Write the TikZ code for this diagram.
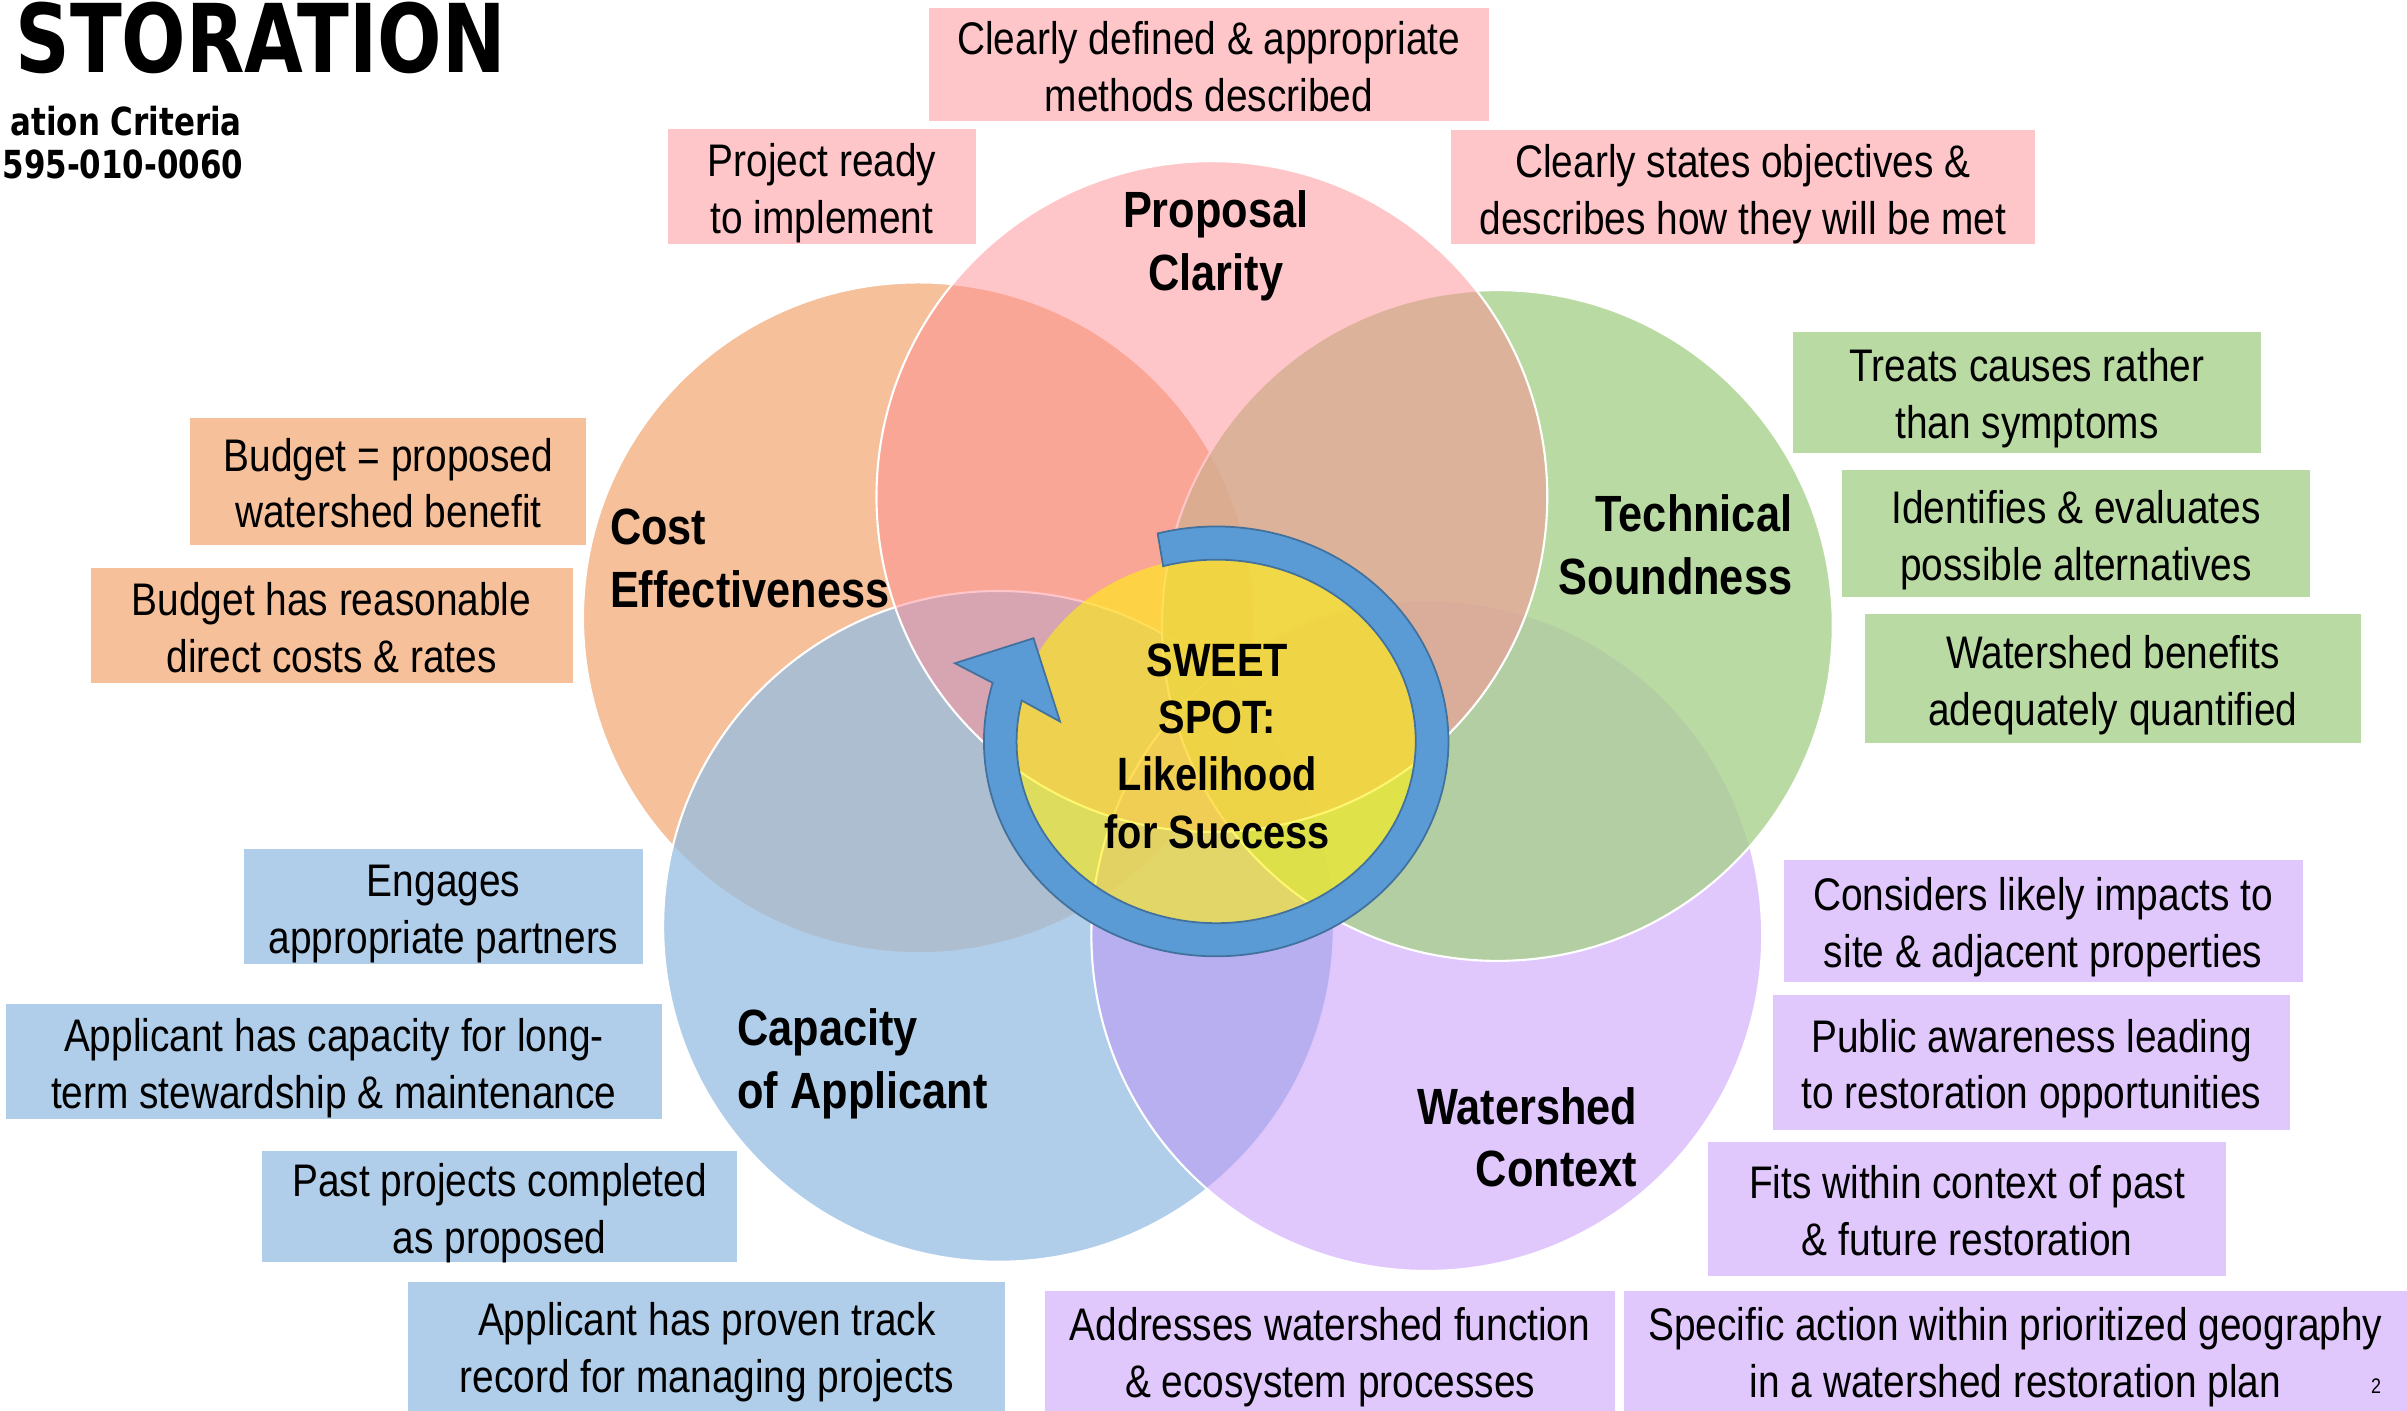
\documentclass[tikz,border=0pt]{standalone}
\usepackage{fontspec}
\setmainfont{Liberation Sans}[FakeStretch=0.85]
\newfontfamily\headfont{DejaVu Sans}[FakeStretch=0.8]

\newcommand\dpx{0.01535cm}

\definecolor{pinkbox}{RGB}{255,198,201}
\definecolor{orangebox}{RGB}{245,192,154}
\definecolor{greenbox}{RGB}{186,218,163}
\definecolor{bluebox}{RGB}{176,206,234}
\definecolor{purplebox}{RGB}{224,200,252}
\definecolor{pinkfill}{RGB}{255,141,147}
\definecolor{greenfill}{RGB}{169,209,140}
\definecolor{bluefill}{RGB}{150,190,227}
\definecolor{purplefill}{RGB}{193,145,249}
\definecolor{sweetfill}{RGB}{255,240,15}
\definecolor{arrowfill}{RGB}{91,155,213}
\definecolor{arrowline}{RGB}{65,113,156}

\tikzset{
    crit/.style={align=center, inner sep=0pt, font=\fontsize{13}{16.2}\selectfont,
        text height=26.6pt, text depth=0pt},
    topic/.style={inner sep=0pt, font=\fontsize{14.5}{17.8}\selectfont\bfseries},
    ring/.style={draw=white, line width=0.6pt},
    head/.style={anchor=base east, inner sep=0pt},
}

\begin{document}
\begin{tikzpicture}[x=\dpx, y=-\dpx]
        \useasboundingbox (0,0) rectangle (1568.1,919.2);

        % the five criteria
        \fill[ring, fill=orangebox] (598.3,402.5) circle[radius=218.5];
        \fill[ring, fill=bluefill, fill opacity=0.75] (650.5,603.5) circle[radius=218.5];
        \fill[ring, fill=purplefill, fill opacity=0.5] (929.5,609.5) circle[radius=218.5];
        \fill[ring, fill=greenfill, fill opacity=0.8] (975.5,407.5) circle[radius=218.5];
        \fill[ring, fill=pinkfill, fill opacity=0.5] (789.5,323.5) circle[radius=218.5];

        % sweet spot and circular arrow
        \coordinate (ss) at (792.3,483);
        \fill[sweetfill, fill opacity=0.6] (ss) ellipse[x radius=132, y radius=120];
        \draw[arrowline, fill=arrowfill, line width=0.5pt]
            ([shift={(-104.6:151.3 and 140)}]ss) arc[start angle=-104.6, end angle=195.8, x radius=151.3, y radius=140]
            -- (622.1,432.1) -- (673.3,415.8) -- (690.6,470.1)
            -- ([shift={(193:130 and 118.4)}]ss) arc[start angle=193, end angle=-105.4, x radius=130, y radius=118.4]
            -- cycle;
        \node[align=center, inner sep=0pt, font=\fontsize{13.3}{16.3}\selectfont\bfseries] (sweet) at (793,486) {SWEET\\SPOT:\\Likelihood\\for Success};

        \node[topic, align=center] (clarity) at (792,160) {Proposal\\Clarity};
        \node[topic, align=left, anchor=west] (cost) at (397,364) {Cost\\Effectiveness};
        \node[topic, align=right, anchor=east] (tech) at (1168,355) {Technical\\Soundness};
        \node[topic, align=left, anchor=west] (capacity) at (480,693) {Capacity\\of Applicant};
        \node[topic, align=right, anchor=east] (context) at (1067,741) {Watershed\\Context};

        % proposal clarity
        \node[crit, fill=pinkbox, minimum width=365*\dpx, minimum height=74*\dpx] (methods) at (787.5,42) {Clearly defined \& appropriate\\methods described};
        \node[crit, fill=pinkbox, minimum width=201*\dpx, minimum height=75*\dpx] (ready) at (535.5,121.5) {Project ready\\to implement};
        \node[crit, fill=pinkbox, minimum width=381*\dpx, minimum height=74*\dpx] (objectives) at (1135.5,122) {Clearly states objectives \&\\describes how they will be met};

        % technical soundness
        \node[crit, fill=greenbox, minimum width=305*\dpx, minimum height=79*\dpx] (causes) at (1320.5,255.5) {Treats causes rather\\than symptoms};
        \node[crit, fill=greenbox, minimum width=305*\dpx, minimum height=83*\dpx] (alternatives) at (1352.5,347.5) {Identifies \& evaluates\\possible alternatives};
        \node[crit, fill=greenbox, minimum width=323*\dpx, minimum height=84*\dpx] (benefits) at (1376.5,442) {Watershed benefits\\adequately quantified};

        % cost effectiveness
        \node[crit, fill=orangebox, minimum width=258*\dpx, minimum height=83*\dpx] (budget) at (253,313.5) {Budget = proposed\\watershed benefit};
        \node[crit, fill=orangebox, minimum width=314*\dpx, minimum height=75*\dpx] (rates) at (216,407.5) {Budget has reasonable\\direct costs \& rates};

        % capacity of applicant
        \node[crit, fill=bluebox, minimum width=260*\dpx, minimum height=75*\dpx] (partners) at (289,590.5) {Engages\\appropriate partners};
        \node[crit, fill=bluebox, minimum width=427*\dpx, minimum height=75*\dpx] (stewardship) at (217.5,691.5) {Applicant has capacity for long-\\term stewardship \& maintenance};
        \node[crit, fill=bluebox, minimum width=309*\dpx, minimum height=72*\dpx] (past) at (325.5,786) {Past projects completed\\as proposed};
        \node[crit, fill=bluebox, minimum width=389*\dpx, minimum height=84*\dpx] (record) at (460.5,877) {Applicant has proven track\\record for managing projects};

        % watershed context
        \node[crit, fill=purplebox, minimum width=338*\dpx, minimum height=80*\dpx] (impacts) at (1331,600) {Considers likely impacts to\\site \& adjacent properties};
        \node[crit, fill=purplebox, minimum width=337*\dpx, minimum height=88*\dpx] (awareness) at (1323.5,692) {Public awareness leading\\to restoration opportunities};
        \node[crit, fill=purplebox, minimum width=337*\dpx, minimum height=87*\dpx] (fits) at (1281.5,787.5) {Fits within context of past\\\& future restoration};
        \node[crit, fill=purplebox, minimum width=371*\dpx, minimum height=78*\dpx] (function) at (866.5,880) {Addresses watershed function\\\& ecosystem processes};
        \node[crit, fill=purplebox, minimum width=510*\dpx, minimum height=78*\dpx] (geography) at (1313,880) {Specific action within prioritized geography\\in a watershed restoration plan};

        % heading
        \node[head, font=\headfont\fontsize{27}{30}\selectfont\bfseries] (title) at (330,47) {STORATION};
        \node[head, font=\headfont\fontsize{11}{13}\selectfont\bfseries] (criteria) at (158,88) {ation Criteria};
        \node[head, font=\headfont\fontsize{11}{13}\selectfont\bfseries] (wac) at (159,116) {595-010-0060};
        \node[inner sep=0pt, font=\fontsize{6}{7}\selectfont] (page) at (1548,903) {2};
    \end{tikzpicture}
\end{document}
